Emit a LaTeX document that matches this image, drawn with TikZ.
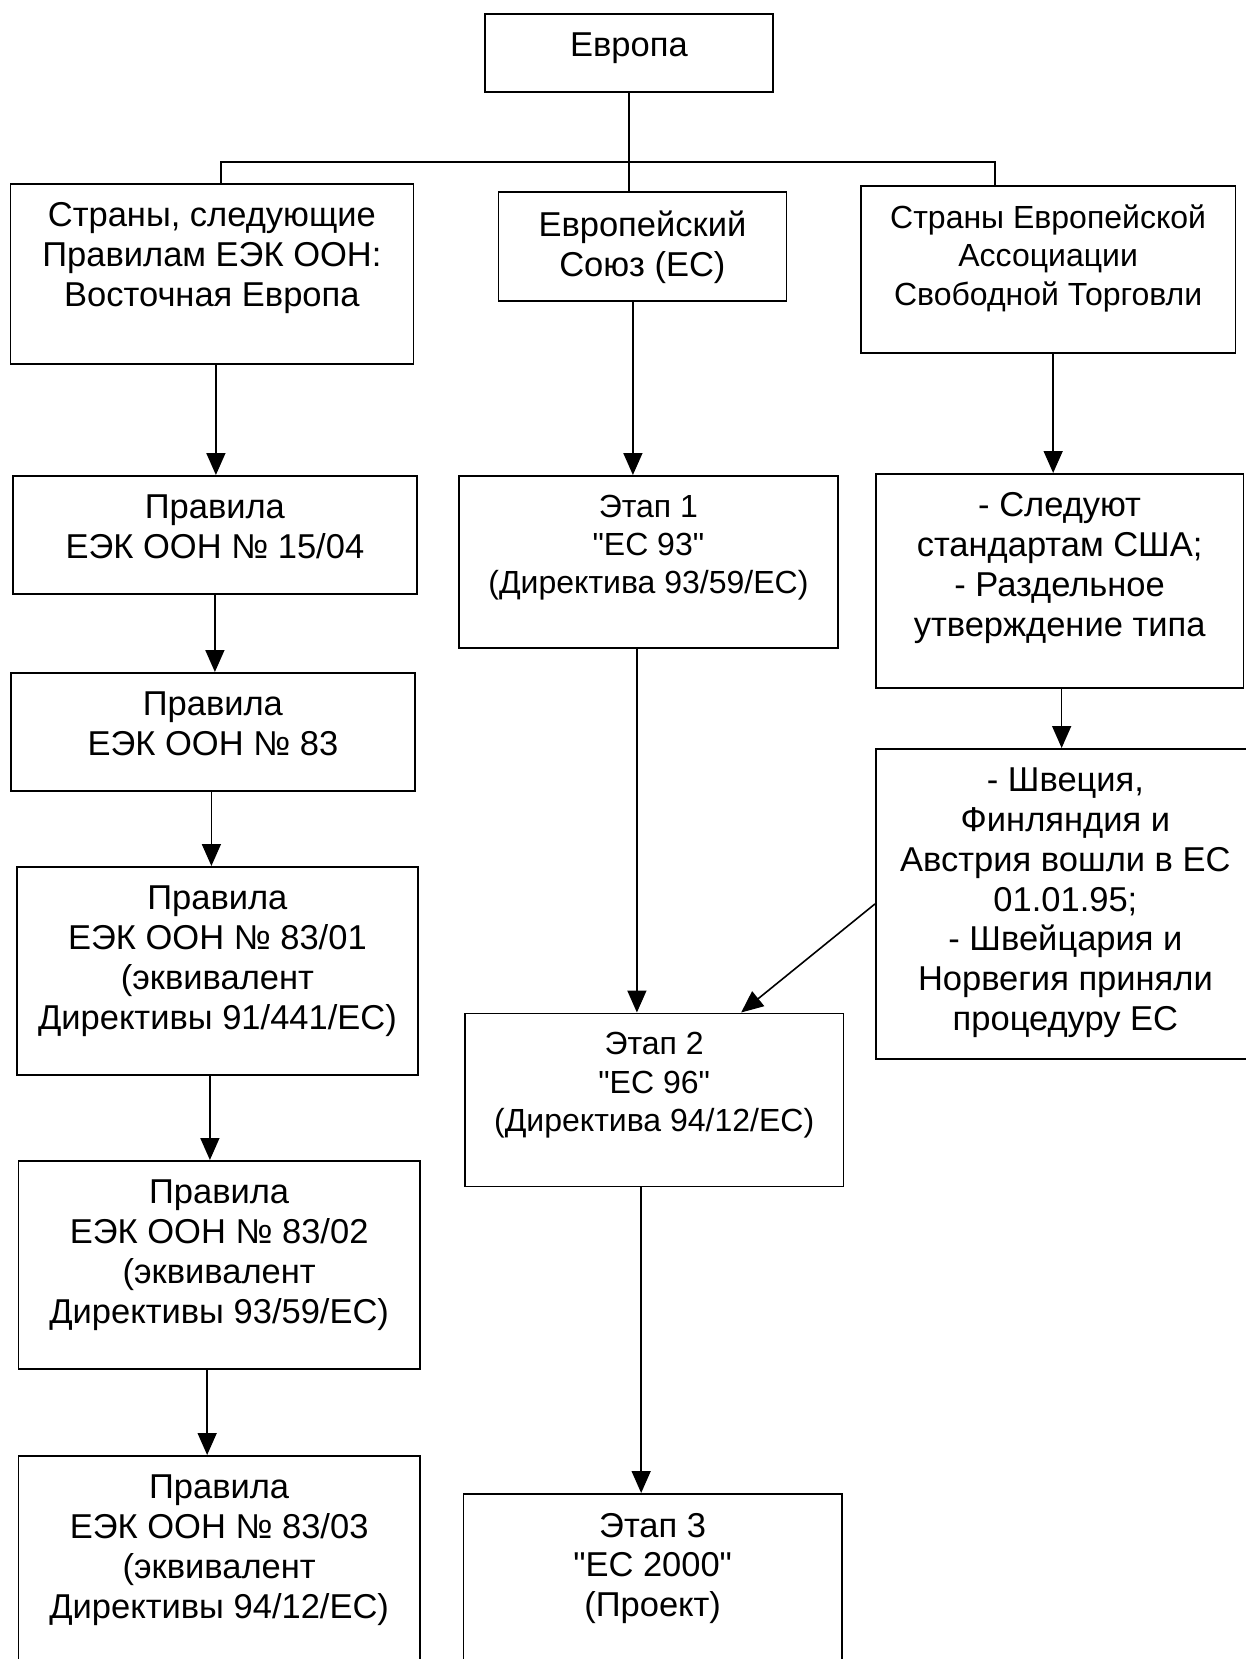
\documentclass[tikz,border=0pt]{standalone}
\usepackage{fontspec}
\setmainfont{Liberation Sans}
\usepackage{tikz}
\usetikzlibrary{arrows.meta}

\begin{document}
\begin{tikzpicture}[x=1pt,y=-1pt,
	box/.style n args={2}{draw, line width=1.8pt, inner sep=0pt, anchor=north west,
		execute at begin node={\begin{minipage}[c][#2pt][t]{#1pt}\centering\vspace*{19pt}},
		execute at end node={\end{minipage}}},
	big/.style={font=\fontsize{34.5}{39.8}\selectfont},
	small/.style={font=\fontsize{32}{38.3}\selectfont},
	link/.style={line width=1.6pt},
	arr/.style={line width=1.6pt, -{Triangle[length=22pt,width=19pt]}}]
		\useasboundingbox (0,0) rectangle (1246,1659);
		\clip (0,0) rectangle (1246,1659);
		\node[box={288}{78}, big] (eu) at (484,13) {Европа};
		\node[box={403}{180}, big] (a) at (9.5,183) {Страны, следующие\\Правилам ЕЭК ООН:\\Восточная Европа};
		\node[box={288}{109}, big] (b) at (497.5,191) {Европейский\\Союз (ЕС)};
		\node[box={374.5}{167}, small] (c) at (860,185) {Страны Европейской\\Ассоциации\\Свободной Торговли};
		\node[box={404}{118}, big] (a1) at (12,475) {Правила\\ЕЭК ООН № 15/04};
		\node[box={379}{172}, small] (b1) at (458,475) {Этап 1\\\textquotedbl ЕС 93\textquotedbl\\(Директива 93/59/ЕС)};
		\node[box={367.5}{214}, big] (c1) at (875,473) {- Следуют\\стандартам США;\\- Раздельное\\утверждение типа};
		\node[box={404}{118}, big] (a2) at (10,672) {Правила\\ЕЭК ООН № 83};
		\node[box={379}{310}, big] (c2) at (875,748) {- Швеция,\\Финляндия и\\Австрия вошли в ЕС\\01.01.95;\\- Швейцария и\\Норвегия приняли\\процедуру ЕС};
		\node[box={401}{208}, big] (a3) at (16,866) {Правила\\ЕЭК ООН № 83/01\\(эквивалент\\Директивы 91/441/ЕС)};
		\node[box={378.5}{173}, small] (b2) at (464,1012.5) {Этап 2\\\textquotedbl ЕС 96\textquotedbl\\(Директива 94/12/ЕС)};
		\node[box={401.5}{208}, big] (a4) at (17.5,1160) {Правила\\ЕЭК ООН № 83/02\\(эквивалент\\Директивы 93/59/ЕС)};
		\node[box={401.5}{230}, big] (a5) at (17.5,1455) {Правила\\ЕЭК ООН № 83/03\\(эквивалент\\Директивы 94/12/ЕС)};
		\node[box={378.5}{200}, big] (b3) at (462.5,1493) {Этап 3\\\textquotedbl ЕС 2000\textquotedbl\\(Проект)};
		\coordinate (busl) at (221,162);
		\coordinate (busr) at (995,162);
		\draw[link] (eu.south) -- (eu.south |- b.north);
		\draw[link] (a.north -| busl) -- (busl) -- (busr) -- (busr |- c.north);
		\draw[arr] ([xshift=4]a.south) -- ([xshift=4]a.south |- a1.north);
		\draw[arr] (a1.south) -- (a1.south |- a2.north);
		\draw[arr] ([xshift=-1.5]a2.south) -- ([xshift=-1.5]a2.south |- a3.north);
		\draw[arr] ([xshift=-7.5]a3.south) -- ([xshift=-7.5]a3.south |- a4.north);
		\draw[arr] ([xshift=-12]a4.south) -- ([xshift=-12]a4.south |- a5.north);
		\draw[arr] ([xshift=-9.5]b.south) -- ([xshift=-9.5]b.south |- b1.north);
		\draw[arr] ([xshift=-11.5]b1.south) -- ([xshift=-11.5]b1.south |- b2.north);
		\draw[arr] ([xshift=-13]b2.south) -- ([xshift=-13]b2.south |- b3.north);
		\draw[arr] ([xshift=5]c.south) -- ([xshift=5]c.south |- c1.north);
		\draw[arr] ([xshift=2]c1.south) -- ([xshift=2]c1.south |- c2.north);
		\draw[arr] (c2.west) -- ([xshift=87]b2.north);
\end{tikzpicture}
\end{document}
